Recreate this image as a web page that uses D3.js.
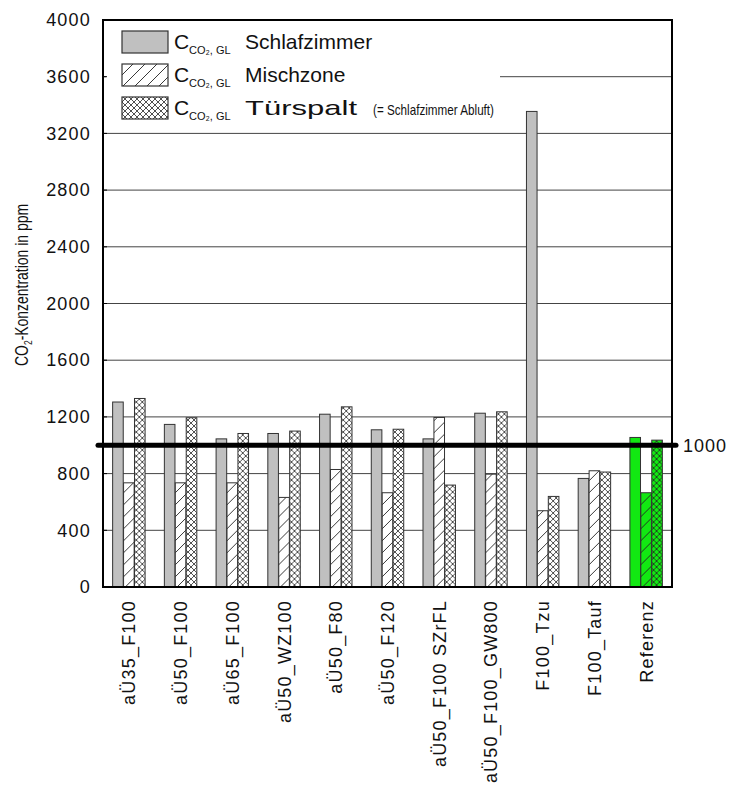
<!DOCTYPE html>
<html>
    <head>
        <meta charset="utf-8">
        <title>CO2-Konzentration</title>
        <script type="text/javascript" src="https://cdn.jsdelivr.net/npm/d3@7"></script>
        <style type="text/css">
            body { margin: 0; background: #fff; }
            text { font-family: "Liberation Sans", Arial, sans-serif; fill: #111; }
        </style>
    </head>
    <body>
        <script type="text/javascript">
            // Data
            var categories = ["aÜ35_F100", "aÜ50_F100", "aÜ65_F100", "aÜ50_WZ100", "aÜ50_F80",
                              "aÜ50_F120", "aÜ50_F100 SZrFL", "aÜ50_F100_GW800", "F100_Tzu", "F100_Tauf", "Referenz"];
            var series = ["Schlafzimmer", "Mischzone", "Türspalt"];
            var schlafzimmer = [1305, 1147, 1045, 1083, 1219, 1109, 1045, 1226, 3355, 766, 1055];
            var mischzone    = [735, 735, 735, 632, 829, 665, 1196, 796, 538, 820, 665];
            var tuerspalt    = [1330, 1194, 1083, 1100, 1271, 1113, 719, 1236, 639, 811, 1036];
            var yTicks = [0, 400, 800, 1200, 1600, 2000, 2400, 2800, 3200, 3600, 4000];
            var limit = 1000;

            var w = 729, h = 795;
            var pLeft = 103, pRight = 672, pTop = 20, pBottom = 587;

            var svg = d3.select("body").append("svg")
                .attr("width", w)
                .attr("height", h);

            // patterns
            var defs = svg.append("defs");
            function hatch(id, bg) {
                var p = defs.append("pattern").attr("id", id)
                    .attr("patternUnits", "userSpaceOnUse")
                    .attr("width", 12).attr("height", 12);
                p.append("rect").attr("width", 12).attr("height", 12).attr("fill", bg);
                p.append("path").attr("d", "M-1,13 L13,-1 M-3,3 L3,-3 M9,15 L15,9")
                    .attr("stroke", "#222").attr("stroke-width", 0.9);
            }
            function cross(id, bg) {
                var p = defs.append("pattern").attr("id", id)
                    .attr("patternUnits", "userSpaceOnUse")
                    .attr("width", 6).attr("height", 6);
                p.append("rect").attr("width", 6).attr("height", 6).attr("fill", bg);
                p.append("path").attr("d", "M0,0 L6,6 M6,0 L0,6")
                    .attr("stroke", "#222").attr("stroke-width", 0.8);
            }
            var green = "#12e812";
            hatch("hatchW", "#fff");
            hatch("hatchG", green);
            cross("crossW", "#fff");
            cross("crossG", green);

            function fillFor(s, cat) {
                var ref = cat === "Referenz";
                if (s === "Schlafzimmer") return ref ? green : "#c0c0c0";
                if (s === "Mischzone") return ref ? "url(#hatchG)" : "url(#hatchW)";
                return ref ? "url(#crossG)" : "url(#crossW)";
            }

            // scales
            var xScale = d3.scaleBand()
                .domain(categories)
                .range([pLeft, pRight])
                .paddingInner(0.36)
                .paddingOuter(0.18);

            var xInner = d3.scaleBand()
                .domain(series)
                .range([0, xScale.bandwidth()])
                .padding(0.03);

            var yScale = d3.scaleLinear()
                .domain([0, 4000])
                .range([pBottom, pTop]);

            // gridlines
            svg.append("g").selectAll("line")
                .data(yTicks.slice(1, -1))
                .enter().append("line")
                .attr("x1", pLeft).attr("x2", pRight)
                .attr("y1", function(d) { return yScale(d); })
                .attr("y2", function(d) { return yScale(d); })
                .attr("stroke", "#444").attr("stroke-width", 1);

            // bars
            var rows = categories.map(function(c, i) {
                return { cat: c, vals: [schlafzimmer[i], mischzone[i], tuerspalt[i]] };
            });
            svg.append("g").selectAll("g")
                .data(rows)
                .enter().append("g")
                .attr("transform", function(d) { return "translate(" + xScale(d.cat) + ",0)"; })
                .selectAll("rect")
                .data(function(d) {
                    return series.map(function(s, j) { return { s: s, v: d.vals[j], cat: d.cat }; });
                })
                .enter().append("rect")
                .attr("x", function(d) { return xInner(d.s); })
                .attr("width", xInner.bandwidth())
                .attr("y", function(d) { return yScale(d.v); })
                .attr("height", function(d) { return pBottom - yScale(d.v); })
                .attr("fill", function(d) { return fillFor(d.s, d.cat); })
                .attr("stroke", "#333")
                .attr("stroke-width", 1);

            // legend
            var lg = svg.append("g");
            lg.append("rect").attr("x", 106).attr("y", 22).attr("width", 394).attr("height", 102)
                .attr("fill", "#fff");
            var legendRows = [
                { label: "Schlafzimmer", len: 0, extra: "", fill: "#c0c0c0" },
                { label: "Mischzone", len: 0, extra: "", fill: "url(#hatchW)" },
                { label: "Türspalt", len: 112, extra: "(= Schlafzimmer Abluft)", fill: "url(#crossW)" }
            ];
            var lgItems = lg.selectAll("g.item")
                .data(legendRows)
                .enter().append("g").attr("class", "item")
                .attr("transform", function(d, i) { return "translate(122," + (42 + i * 33) + ")"; });
            lgItems.append("rect")
                .attr("x", 0).attr("y", -11).attr("width", 46).attr("height", 22)
                .attr("fill", function(d) { return d.fill; })
                .attr("stroke", "#333").attr("stroke-width", 1.2);
            lgItems.append("text")
                .attr("x", 52).attr("y", 7)
                .style("font-size", "21px")
                .text("C");
            lgItems.append("text")
                .attr("x", 67).attr("y", 12)
                .style("font-size", "11px")
                .text("CO₂, GL");
            var lbl = lgItems.append("text")
                .attr("x", 123).attr("y", 7)
                .style("font-size", "21px")
                .text(function(d) { return d.label; });
            lbl.filter(function(d) { return d.len; })
                .attr("textLength", function(d) { return d.len; })
                .attr("lengthAdjust", "spacingAndGlyphs");
            lgItems.filter(function(d) { return d.extra; })
                .append("text")
                .attr("x", 251).attr("y", 7)
                .style("font-size", "15px")
                .attr("textLength", 121)
                .attr("lengthAdjust", "spacingAndGlyphs")
                .text(function(d) { return d.extra; });

            // plot border
            svg.append("rect")
                .attr("x", pLeft).attr("y", pTop)
                .attr("width", pRight - pLeft).attr("height", pBottom - pTop)
                .attr("fill", "none").attr("stroke", "#000").attr("stroke-width", 2);

            // 1000 ppm limit line
            svg.append("line")
                .attr("x1", pLeft - 5).attr("x2", pRight + 4)
                .attr("y1", yScale(limit)).attr("y2", yScale(limit))
                .attr("stroke", "#000").attr("stroke-width", 5)
                .attr("stroke-linecap", "round");
            svg.append("text")
                .attr("x", 683).attr("y", yScale(limit))
                .attr("dy", "0.35em")
                .style("font-size", "18px")
                .style("letter-spacing", "1px")
                .text(limit);

            // y axis
            var yAxis = d3.axisLeft(yScale)
                .tickValues(yTicks)
                .tickFormat(d3.format("d"))
                .tickSize(0)
                .tickPadding(12);
            var ya = svg.append("g")
                .attr("transform", "translate(" + pLeft + ",0)")
                .call(yAxis);
            ya.select(".domain").remove();
            ya.selectAll("text")
                .style("font-size", "18px")
                .style("letter-spacing", "1.2px")
                .style("font-family", "'Liberation Sans', Arial, sans-serif")
                .attr("fill", "#111");

            // inward ticks
            svg.append("g").selectAll("line")
                .data(yTicks)
                .enter().append("line")
                .attr("x1", pLeft).attr("x2", pLeft + 4)
                .attr("y1", function(d) { return yScale(d); })
                .attr("y2", function(d) { return yScale(d); })
                .attr("stroke", "#000");

            // x labels
            var xAxis = d3.axisBottom(xScale).tickSize(0).tickPadding(0);
            var xa = svg.append("g")
                .attr("transform", "translate(0," + pBottom + ")")
                .call(xAxis);
            xa.select(".domain").remove();
            xa.selectAll("text")
                .attr("transform", "rotate(-90)")
                .attr("x", -13)
                .attr("y", 0)
                .attr("dy", "0.36em")
                .style("text-anchor", "end")
                .style("font-size", "18px")
                .style("letter-spacing", "1.2px")
                .style("font-family", "'Liberation Sans', Arial, sans-serif")
                .attr("fill", "#111");

            // y title
            var yt = svg.append("text")
                .attr("transform", "translate(28,285) rotate(-90)")
                .style("text-anchor", "middle")
                .style("font-size", "18px")
                .attr("textLength", 162)
                .attr("lengthAdjust", "spacingAndGlyphs");
            yt.append("tspan").text("CO");
            yt.append("tspan").attr("dy", 4).style("font-size", "11px").text("2");
            yt.append("tspan").attr("dy", -4).text("-Konzentration in ppm");
        </script>
    </body>
</html>
